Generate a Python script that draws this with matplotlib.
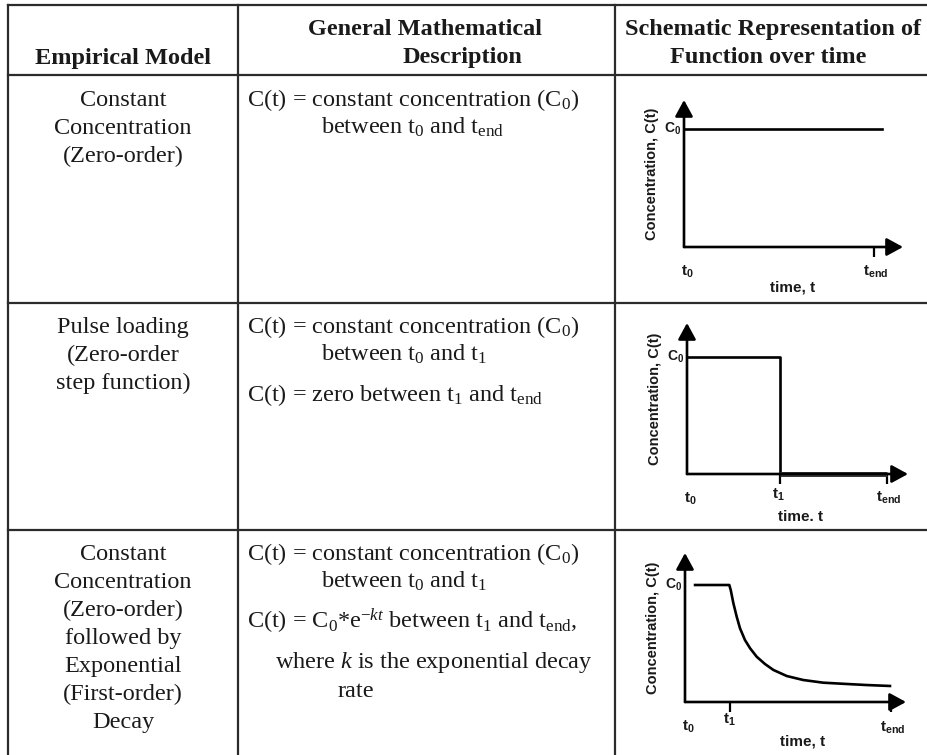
import matplotlib
matplotlib.use("Agg")
import matplotlib.pyplot as plt
from matplotlib.transforms import offset_copy

plt.rcParams["mathtext.fontset"] = "custom"
plt.rcParams["mathtext.rm"] = "Liberation Serif"
plt.rcParams["mathtext.it"] = "Liberation Serif:italic"
plt.rcParams["mathtext.bf"] = "Liberation Sans:bold"
plt.rcParams["mathtext.sf"] = "Liberation Sans:bold"

W, H = 928, 755
SERIF = "Liberation Serif"
SANS = "Liberation Sans"
INK = "#1a1a1a"

# --- table content ---
headers = ["Empirical Model", "General Mathematical", "Description",
           "Schematic Representation of", "Function over time"]

model_names = [
    ["Constant", "Concentration", "(Zero-order)"],
    ["Pulse loading", "(Zero-order", "step function)"],
    ["Constant", "Concentration", "(Zero-order)", "followed by",
     "Exponential", "(First-order)", "Decay"],
]

descriptions = [
    ["C(t) = constant concentration (C$_0$)",
     "between t$_0$ and t$_{\\mathrm{end}}$"],
    ["C(t) = constant concentration (C$_0$)",
     "between t$_0$ and t$_1$",
     "C(t) = zero between t$_1$ and t$_{\\mathrm{end}}$"],
    ["C(t) = constant concentration (C$_0$)",
     "between t$_0$ and t$_1$",
     "C(t) = C$_0$*e$^{-kt}$ between t$_1$ and t$_{\\mathrm{end}}$,",
     "where $k$ is the exponential decay",
     "rate"],
]

# --- schematic curves (time in units where t_end = 10, conc. in units of C0) ---
t_end = 10.0
row1_t = [0.0, 10.4]
row1_c = [1.0, 1.0]

row2_t1 = 4.65
row2_t = [0.0, 4.65, 4.65]
row2_c = [1.0, 1.0, 0.0]
row2_zero_t = [4.65, 10.0]
row2_zero_c = [0.0, 0.0]

row3_t1 = 2.18
row3_t = [0.49, 2.15, 2.22, 2.35, 2.51, 2.67, 2.91, 3.16, 3.48, 3.88,
          4.29, 4.94, 5.74, 6.71, 7.85, 8.82, 9.95]
row3_c = [1.0, 1.0, 0.957, 0.843, 0.729, 0.630, 0.530, 0.459, 0.387, 0.325,
          0.274, 0.222, 0.188, 0.165, 0.154, 0.145, 0.137]

fig = plt.figure(figsize=(W / 100, H / 100), dpi=100)
bg = fig.add_axes([0, 0, 1, 1])
bg.set_xlim(0, W)
bg.set_ylim(H, 0)
bg.axis("off")

# table rules
line_kw = dict(color="#2b2b2b", lw=1.6)
for y in [5, 75, 303, 530]:
    bg.plot([8, W], [y, y], **line_kw)
for x in [8, 238, 615]:
    bg.plot([x, x], [5, H], **line_kw)

hdr = dict(family=SERIF, fontsize=17.5, fontweight="bold", color=INK,
           ha="center", va="baseline")
bg.text(123, 64, headers[0], **hdr)
bg.text(425, 35, headers[1], **hdr)
bg.text(462, 63, headers[2], **hdr)
bg.text(773, 35, headers[3], **hdr)
bg.text(768, 63, headers[4], **hdr)

body = dict(family=SERIF, fontsize=17.5, color=INK, va="baseline")

# first column, centred
row_first_baseline = [106, 333, 560]
for base, lines in zip(row_first_baseline, model_names):
    for i, s in enumerate(lines):
        bg.text(123, base + i * 28, s, ha="center", **body)

# second column, left aligned with hanging indents
desc_layout = [
    [(247, 106), (321, 134)],
    [(247, 333), (321, 361), (247, 401)],
    [(247, 560), (321, 588), (247, 628), (275, 668), (338, 697)],
]
for lines, pos in zip(descriptions, desc_layout):
    for s, (x, y) in zip(lines, pos):
        bg.text(x, y, s, ha="left", **body)


# --- schematic panels ---
def panel(ox, oy, tip, top, px_per_t, px_c0):
    ax = fig.add_axes([ox / W, 1 - oy / H, (tip - ox) / W, (oy - top) / H])
    ax.set_xlim(0, (tip - ox) / px_per_t)
    ax.set_ylim(0, (oy - top) / px_c0)
    for sp in ax.spines.values():
        sp.set_visible(False)
    ax.patch.set_alpha(0)
    arrow = dict(arrowstyle="-|>,head_length=0.55,head_width=0.3", lw=1.9,
                 color="black", shrinkA=0, shrinkB=0, mutation_scale=18)
    ax.annotate("", xy=(1, 0), xytext=(0, 0), xycoords="axes fraction",
                arrowprops=arrow, annotation_clip=False)
    ax.annotate("", xy=(0, 1), xytext=(0, 0), xycoords="axes fraction",
                arrowprops=arrow, annotation_clip=False)
    ax.set_yticks([])
    ax.tick_params(axis="x", direction="out", length=7, width=1.6,
                   labelbottom=False, color="black")
    return ax


def label(ax, x, y, s, dx, dy, size=11, **kw):
    tr = offset_copy(ax.transData, fig=fig, x=dx, y=dy, units="dots")
    ax.text(x, y, s, transform=tr, family=SANS, fontweight="bold",
            fontsize=size, color=INK, clip_on=False, **kw)


def decorate(ax, t_marks, time_text, time_dy):
    label(ax, 0, 0, "t$_\\mathbf{0}$", 3, -25, ha="center", va="center")
    for s, t, dx, dy in t_marks:
        label(ax, t, 0, s, dx, dy, ha="center", va="center")
    label(ax, 5.7, 0, time_text, 0, time_dy, ha="center", va="center")
    label(ax, 0, 1, "C$_\\mathbf{0}$", -3, 0, size=10, ha="right", va="center")
    ytop = ax.get_ylim()[1]
    label(ax, 0, ytop / 2, "Concentration, C(t)", -32, 0, size=10.5,
          rotation=90, ha="center", va="center")


ln = dict(color="black", lw=1.9, solid_joinstyle="round", clip_on=False)

ax1 = panel(684, 247, 903, 100, 19.0, 118)
ax1.plot(row1_t, row1_c, **ln)
ax1.set_xticks([t_end])
decorate(ax1, [("t$_\\mathbf{end}$", t_end, 2, -25)], "time, t", -40)

ax2 = panel(687, 474, 908, 323, 20.0, 117)
ax2.plot(row2_t, row2_c, **ln)
ax2.plot(row2_zero_t, row2_zero_c, color="#3a3a3a", lw=3.6,
         solid_capstyle="butt", clip_on=False)
ax2.set_xticks([row2_t1, t_end])
decorate(ax2, [("t$_\\mathbf{1}$", row2_t1, -2, -21),
               ("t$_\\mathbf{end}$", t_end, 2, -24)], "time. t", -43)

ax3 = panel(685, 702, 906, 553, 20.6, 117)
ax3.plot(row3_t, row3_c, **ln)
ax3.set_xticks([row3_t1, t_end])
decorate(ax3, [("t$_\\mathbf{1}$", row3_t1, 0, -18),
               ("t$_\\mathbf{end}$", t_end, 2, -26)], "time, t", -40)

fig.savefig("out.png", dpi=100, facecolor="white")
